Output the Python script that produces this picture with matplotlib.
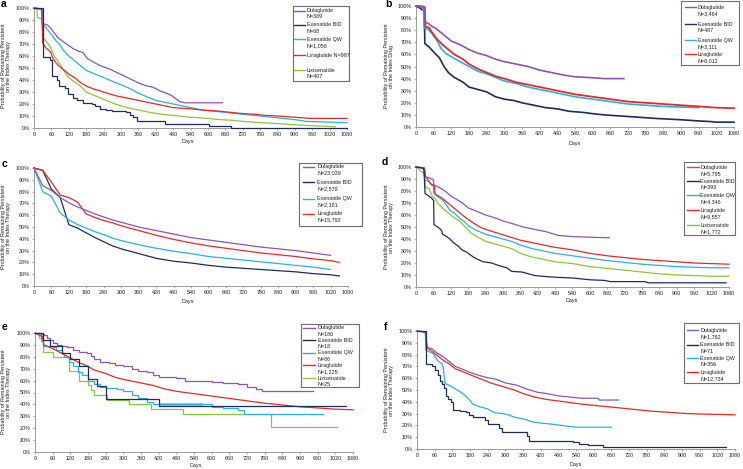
import matplotlib
matplotlib.use('Agg')
import matplotlib.pyplot as plt

W, H = 743, 469
plt.rcParams['font.family'] = ['Liberation Sans', 'DejaVu Sans']

C_DULA = '#8E54B0'
C_BID = '#1C2D5A'
C_QW = '#2AB0E4'
C_LIRA = '#E32A2A'
C_LIXI = '#8CC63F'

X_TICKS = list(range(0, 1081, 60))
Y_TICKS = list(range(0, 101, 10))
Y_TICK_LABELS = [f'{v}%' for v in Y_TICKS]

# ---------------- Panel a ----------------
A_DULA_X = [0, 20, 28, 30, 45, 55, 67, 84, 101, 118, 136, 153, 168, 184, 205, 228, 262, 297, 331, 366, 389, 411, 434, 457, 475, 486, 503, 521, 650]
A_DULA_Y = [100, 99.5, 99, 87, 86, 84, 80, 75, 72, 69, 66, 64, 63, 58, 55, 52, 49, 45, 41, 37, 35, 34, 31, 29, 27, 25, 22, 21, 21]
A_BID_X = [0, 30, 55, 63, 80, 87, 107, 118, 133, 150, 168, 199, 210, 228, 248, 268, 317, 331, 343, 354, 400, 452, 605, 680, 1080]
A_BID_Y = [100, 59.5, 57, 43, 40, 35, 33, 28, 25, 23, 21, 20, 18, 16, 15, 14, 13, 11, 9, 6, 5.5, 3, 1.5, 0, 0]
A_QW_X = [0, 25, 28, 40, 60, 75, 90, 100, 120, 140, 160, 180, 210, 240, 270, 300, 330, 360, 390, 420, 460, 500, 540, 580, 620, 660, 700, 740, 780, 820, 860, 900, 940, 1000, 1080]
A_QW_Y = [100, 99, 87, 84, 78, 73, 69, 65, 60, 56, 52, 48, 45, 42, 39, 36, 33, 29, 26, 23, 21, 19, 17, 15, 14, 13, 12, 11, 10, 9, 8, 7, 5.5, 5, 4.5]
A_LIRA_X = [0, 28, 30, 40, 50, 58, 65, 80, 100, 120, 140, 160, 180, 200, 240, 280, 320, 360, 400, 440, 480, 540, 580, 640, 680, 720, 760, 800, 840, 900, 950, 1080]
A_LIRA_Y = [100, 99, 71, 67, 65, 63, 58, 53, 49, 45, 42, 38, 35, 33, 30, 27, 25, 23, 21, 19, 17, 16, 15, 14, 13, 12, 11.5, 10.5, 10, 9, 8, 8]
A_LIXI_X = [0, 10, 12, 26, 31, 40, 55, 70, 90, 110, 130, 160, 180, 210, 240, 280, 320, 360, 400, 440, 500, 540, 600, 640, 680, 720, 780, 820, 880, 950, 1000, 1040]
A_LIXI_Y = [100, 99, 92, 91, 75, 73, 68, 60, 53, 45, 40, 35, 30, 27, 24, 20, 17, 15, 13, 11.5, 10, 9, 8, 7, 6.5, 5.5, 4.5, 4, 3, 2, 1.5, 1]
A_LABELS = [('Dulaglutide', 'N=389'), ('Exenatide BID', 'N=68'), ('Exenatide QW', 'N=1,058'),
            ('Liraglutide N=997', None), ('Lixisenatide', 'N=407')]

# ---------------- Panel b ----------------
B_DULA_X = [0, 25, 28, 30, 45, 55, 65, 80, 100, 120, 150, 180, 210, 240, 270, 300, 340, 380, 420, 460, 500, 540, 580, 640, 706]
B_DULA_Y = [100, 99.5, 99, 87, 85, 83, 82, 79, 75, 71, 68, 64, 61, 59, 56, 54, 52, 50, 47, 45, 43, 41.5, 41, 40, 40]
B_BID_X = [0, 15, 20, 28, 30, 45, 60, 80, 95, 110, 130, 160, 180, 210, 240, 270, 300, 330, 360, 400, 440, 480, 520, 570, 600, 640, 700, 760, 820, 860, 900, 960, 1000, 1020, 1080]
B_BID_Y = [100, 98, 97, 97, 69, 66, 62, 57, 50, 45, 41, 37, 33, 31, 29, 25, 23, 22, 20, 18, 16, 15, 13, 12, 11, 10, 9, 8, 7, 6.5, 6, 5, 4.5, 4, 4]
B_QW_X = [0, 25, 28, 40, 55, 70, 85, 100, 120, 150, 180, 210, 240, 270, 300, 340, 380, 420, 460, 500, 540, 600, 660, 720, 780, 840, 900, 960]
B_QW_Y = [100, 99, 82, 81, 77, 72, 65, 61, 58, 54, 50, 46, 44, 41, 38, 36, 33, 31, 29, 27, 25, 23, 21, 19, 18, 17, 16.5, 16]
B_LIRA_X = [0, 25, 30, 32, 45, 55, 70, 90, 110, 130, 160, 180, 210, 240, 270, 300, 340, 380, 420, 460, 500, 540, 600, 660, 720, 780, 840, 900, 960, 1020, 1080]
B_LIRA_Y = [100, 99.5, 99, 83, 82, 78, 73, 68, 64, 60, 56, 52, 48, 45, 42, 40, 37, 35, 33, 31, 29, 27, 25, 23, 21, 20, 19, 18, 17, 16, 15.5]
B_LABELS = [('Dulaglutide', 'N=3,464'), ('Exenatide BID', 'N=487'), ('Exenatide QW', 'N=3,111'),
            ('Liraglutide', 'N=8,012')]

# ---------------- Panel c ----------------
C_DULA_X = [0, 30, 60, 90, 120, 150, 180, 210, 240, 270, 300, 360, 420, 480, 540, 600, 660, 720, 780, 840, 900, 960, 1020]
C_DULA_Y = [100, 85, 81, 75, 70.5, 67, 64, 61, 58.5, 56, 54, 50, 47, 44, 41, 39, 37, 35, 33, 31.5, 30, 28, 26]
C_BID_X = [0, 30, 60, 90, 120, 150, 180, 210, 240, 270, 300, 360, 420, 480, 540, 600, 660, 720, 780, 840, 900, 960, 1020, 1050]
C_BID_Y = [100, 98, 82, 75, 52, 49, 45, 41, 37.5, 34, 31.5, 27.5, 23.5, 21, 19.5, 17.5, 16, 15, 14, 13, 12, 10.5, 9.5, 8.5]
C_QW_X = [0, 30, 60, 90, 120, 150, 180, 210, 240, 270, 300, 360, 420, 480, 540, 600, 660, 720, 780, 840, 900, 960, 1020]
C_QW_Y = [100, 80, 76, 62, 56, 52, 49, 46, 43.5, 40.5, 38.5, 35, 32, 29.5, 27.5, 25, 23.5, 22, 20.5, 19, 17.5, 16, 14]
C_LIRA_X = [0, 30, 60, 90, 120, 150, 180, 210, 240, 270, 300, 360, 420, 480, 540, 600, 660, 720, 780, 840, 900, 960, 1020, 1050]
C_LIRA_Y = [100, 98, 88, 77, 75, 71, 61, 58, 55.5, 53.5, 51, 47, 43, 39.5, 36.5, 34, 32, 30, 28, 26.5, 25, 23, 21.5, 20]
C_LABELS = [('Dulaglutide', 'N=23,039'), ('Exenatide BID', 'N=2,579'), ('Exenatide QW', 'N=2,181'),
            ('Liraglutide', 'N=15,792')]

# ---------------- Panel d ----------------
D_DULA_X = [0, 28, 30, 45, 55, 60, 62, 80, 100, 120, 140, 160, 180, 210, 240, 280, 300, 330, 370, 410, 450, 490, 540, 600, 667]
D_DULA_Y = [100, 99.5, 92, 91, 90, 89, 85, 83, 80, 76, 73, 70, 66, 63, 60, 57, 55, 53, 50, 48, 46, 43, 42, 41.5, 41]
D_BID_X = [0, 25, 28, 31, 43, 54, 61, 62, 75, 85, 90, 91, 106, 117, 129, 146, 158, 175, 186, 198, 213, 232, 261, 284, 313, 330, 365, 388, 411, 457, 491, 540, 600, 650, 670, 790, 800, 1070]
D_BID_Y = [100, 99, 97, 78, 76, 74, 72, 52, 50, 48, 46, 44, 42, 40, 37, 34, 31, 29, 27, 25, 23, 21, 20, 18, 16, 13, 12.5, 11, 9.5, 8.5, 8, 7.5, 6, 5.5, 4.5, 4.5, 3.5, 3.5]
D_QW_X = [0, 25, 30, 31, 45, 54, 60, 61, 71, 89, 100, 117, 135, 152, 169, 180, 210, 240, 270, 300, 330, 360, 400, 440, 480, 540, 600, 660, 720, 780, 840, 900, 960, 1020, 1080]
D_QW_Y = [100, 99, 90, 89, 88, 85, 84, 78, 76, 73, 70, 64, 61, 57, 54, 51, 47, 44, 42, 40, 38, 35, 32, 30, 28, 26, 24, 22, 20.5, 19, 18, 17, 16.5, 16, 16]
D_LIRA_X = [0, 30, 33, 40, 50, 60, 64, 65, 70, 90, 110, 130, 150, 170, 200, 220, 240, 280, 320, 360, 420, 480, 540, 600, 660, 720, 780, 840, 900, 960, 1020, 1080]
D_LIRA_Y = [100, 99, 92, 90, 86, 85, 85, 79, 77, 74, 70, 66, 62, 58, 53, 50, 48, 45, 42, 39, 36, 33, 31, 28, 26, 24.5, 23, 22, 21, 20, 19.5, 19]
D_LIXI_X = [0, 15, 25, 30, 32, 45, 55, 65, 75, 90, 110, 130, 150, 170, 190, 210, 240, 270, 300, 330, 360, 400, 440, 480, 540, 600, 660, 720, 780, 840, 900, 960, 1020, 1080]
D_LIXI_Y = [100, 97, 95, 94, 83, 82, 76, 74, 70, 66, 62, 58, 55, 50, 45, 42, 38, 36, 34, 32, 28, 25, 23, 21, 19.5, 17, 15.5, 14, 12.5, 11, 10, 9.5, 9, 9]
D_LABELS = [('Dulaglutide', 'N=5,795'), ('Exenatide BID', 'N=393'), ('Exenatide QW', 'N=4,346'),
            ('Liraglutide', 'N=9,557'), ('Lixisenatide', 'N=1,772')]

# ---------------- Panel e ----------------
E_DULA_X = [0, 20, 30, 40, 50, 60, 75, 90, 110, 130, 150, 175, 190, 200, 220, 250, 270, 300, 330, 350, 380, 400, 420, 480, 510, 600, 640, 690, 720, 750, 770, 943]
E_DULA_Y = [100, 99, 98, 96, 94, 92, 90, 89, 88, 86, 84, 83, 81, 78, 76, 75, 73, 72, 70, 68, 67, 65, 63, 62, 60, 59, 58, 57, 55, 53, 51, 51]
E_BID_X = [0, 27, 50, 92, 120, 150, 180, 210, 240, 420, 1056]
E_BID_Y = [100, 94.4, 88.9, 83.3, 77.8, 72.2, 61.1, 55.6, 44.4, 38.9, 38.9]
E_QW_X = [0, 20, 28, 60, 70, 90, 100, 115, 130, 145, 160, 180, 200, 220, 240, 280, 300, 330, 350, 380, 400, 420, 570, 600, 640, 690, 710, 979]
E_QW_Y = [100, 93, 89, 88, 86, 83, 80, 76, 72, 67, 65, 60, 57, 55, 54, 53, 51, 48, 45, 42, 40.5, 40, 40, 38, 37, 35, 32, 32]
E_QW_BAND_X = [420, 570]
E_QW_BAND_LO = [39, 39]
E_QW_BAND_HI = [41.5, 41.5]
E_LIRA_X = [0, 25, 30, 60, 90, 120, 150, 180, 200, 240, 270, 300, 360, 400, 440, 480, 540, 600, 660, 720, 780, 840, 900, 960, 1020, 1080]
E_LIRA_Y = [100, 97, 90, 87, 83, 79, 75, 72, 69, 66, 63, 61, 58, 56, 53, 51, 49, 47, 45, 43, 41, 39.5, 38, 37, 36, 35.5]
E_LIXI_X = [0, 12, 28, 60, 115, 150, 180, 190, 200, 245, 320, 395, 502, 800, 1024]
E_LIXI_Y = [100, 96, 84, 80, 68, 60, 56, 52, 48, 44, 40, 36, 32, 21, 21]
E_LABELS = [('Dulaglutide', 'N=180'), ('Exenatide BID', 'N=18'), ('Exenatide QW', 'N=86'),
            ('Liraglutide', 'N=1,225'), ('Lixisenatide', 'N=25')]

# ---------------- Panel f ----------------
F_DULA_X = [0, 20, 30, 33, 35, 50, 70, 90, 110, 130, 160, 190, 230, 270, 300, 340, 370, 410, 440, 480, 520, 560, 615, 620, 685]
F_DULA_Y = [100, 99.5, 98, 90, 86, 85, 81, 78, 74, 70, 67, 64, 61, 59, 56, 54, 51, 48, 47, 45, 44, 43, 43, 41.5, 41.5]
F_BID_X = [0, 32, 50, 60, 70, 78, 84, 90, 98, 105, 115, 122, 145, 165, 178, 190, 230, 240, 280, 288, 372, 380, 530, 550, 580, 630, 1048]
F_BID_Y = [100, 72, 70, 67, 63, 58, 55, 52, 45, 42, 40, 33, 32, 31, 29, 27, 25, 21, 18, 14, 11, 7, 6, 4, 3, 1.4, 1.4]
F_QW_X = [0, 28, 30, 45, 55, 70, 85, 90, 92, 95, 100, 110, 130, 150, 170, 190, 210, 240, 260, 290, 310, 330, 350, 370, 390, 420, 460, 490, 520, 540, 660]
F_QW_Y = [100, 99, 84, 82, 81, 75, 72, 68, 62, 56, 55, 54, 51, 48, 44, 38, 36, 34, 31, 30, 29, 27, 26, 25, 23, 22, 21, 20, 19, 18.5, 18.5]
F_LIRA_X = [0, 30, 33, 50, 70, 90, 110, 130, 160, 190, 220, 250, 290, 330, 360, 400, 440, 500, 560, 620, 680, 740, 800, 860, 920, 980, 1080]
F_LIRA_Y = [100, 99, 86, 83, 79, 75, 72, 68, 65, 62, 59, 56, 53, 50, 47, 44, 42, 40, 38, 36.5, 35, 33.5, 32, 31, 30, 29.5, 29]
F_LABELS = [('Dulaglutide', 'N=1,782'), ('Exenatide BID', 'N=71'), ('Exenatide QW', 'N=356'),
            ('Liraglutide', 'N=12,734')]

FS = 3.9
TXT = '#222222'
SPINE = '#8a8a8a'

fig = plt.figure(figsize=(W / 100, H / 100), dpi=100)
fig.patch.set_facecolor('white')


def fx(x):
    return x / W


def fy(y):
    return 1 - y / H


def make_axes(x0, x1, ytop, ybot):
    ax = fig.add_axes([fx(x0), fy(ybot), (x1 - x0) / W, (ybot - ytop) / H])
    ax.set_xlim(0, 1080)
    ax.set_ylim(0, 100)
    ax.set_xticks(X_TICKS)
    ax.set_xticklabels([str(v) for v in X_TICKS])
    ax.set_yticks(Y_TICKS)
    ax.set_yticklabels(Y_TICK_LABELS)
    for s in ('top', 'right'):
        ax.spines[s].set_visible(False)
    for s in ('left', 'bottom'):
        ax.spines[s].set_color(SPINE)
        ax.spines[s].set_linewidth(0.6)
    ax.tick_params(labelsize=FS, length=1.6, width=0.5, pad=1.6, color=SPINE, labelcolor=TXT)
    ax.set_facecolor('none')
    return ax


def line(ax, x, y, c, lw=0.9, step=False):
    ax.plot(x, y, color=c, lw=lw, clip_on=False, drawstyle='steps-post' if step else 'default',
            solid_joinstyle='miter', zorder=3)


def legend(x0, y0, x1, y1, hx0, hx1, tx, entries):
    lax = fig.add_axes([fx(x0), fy(y1), (x1 - x0) / W, (y1 - y0) / H])
    lax.set_xlim(x0, x1)
    lax.set_ylim(y1, y0)
    lax.set_xticks([])
    lax.set_yticks([])
    for s in lax.spines.values():
        s.set_color('#6f6f6f')
        s.set_linewidth(0.8)
    for (c, (l1, l2), ty) in entries:
        lax.plot([hx0, hx1 - 0.5], [ty, ty], color=c, lw=1.0)
        lax.text(tx + 0.8, ty, l1, fontsize=FS, color=TXT, va='center', ha='left')
        if l2:
            lax.text(tx + 0.8, ty + 6.3, l2, fontsize=FS, color=TXT, va='center', ha='left')


def labels(letter, lx, ly, ylab, yx, yy, dx, dy):
    fig.text(fx(lx), fy(ly), letter, fontsize=7.5, fontweight='bold', ha='center', va='center')
    fig.text(fx(yx), fy(yy), ylab, fontsize=FS, color=TXT, rotation=90, ha='center', va='center',
             multialignment='center', linespacing=1.15)
    fig.text(fx(dx), fy(dy), 'Days', fontsize=FS, color=TXT, ha='center', va='center')


YL1 = 'Probability of Remaining Persistent\non the Index Therapy'
YL2 = 'Probability of Remaining Persistent\non the Index Drug'

# Panel a
ax = make_axes(34, 347, 8, 128)
line(ax, A_LIXI_X, A_LIXI_Y, C_LIXI)
line(ax, A_QW_X, A_QW_Y, C_QW)
line(ax, A_LIRA_X, A_LIRA_Y, C_LIRA)
line(ax, A_DULA_X, A_DULA_Y, C_DULA)
line(ax, A_BID_X, A_BID_Y, C_BID, step=True)
labels('a', 4, 4, YL1, 6, 66, 188, 141)
legend(293, 6, 349, 81, 294, 305, 306,
       [(C_DULA, A_LABELS[0], 10.7), (C_BID, A_LABELS[1], 25), (C_QW, A_LABELS[2], 39.3),
        (C_LIRA, A_LABELS[3], 55), (C_LIXI, A_LABELS[4], 70)])

# Panel b
ax = make_axes(416, 734, 6, 127)
line(ax, B_BID_X, B_BID_Y, C_BID, lw=1.2)
line(ax, B_QW_X, B_QW_Y, C_QW, lw=1.2)
line(ax, B_LIRA_X, B_LIRA_Y, C_LIRA, lw=1.3)
line(ax, B_DULA_X, B_DULA_Y, C_DULA, lw=1.2)
labels('b', 388, 4, YL2, 389, 66, 575, 143)
legend(681, 0.5, 739, 65, 685, 696, 697,
       [(C_DULA, B_LABELS[0], 7.3), (C_BID, B_LABELS[1], 24), (C_QW, B_LABELS[2], 40),
        (C_LIRA, B_LABELS[3], 54.3)])

# Panel c
ax = make_axes(34, 348, 168, 286)
line(ax, C_BID_X, C_BID_Y, C_BID)
line(ax, C_QW_X, C_QW_Y, C_QW)
line(ax, C_LIRA_X, C_LIRA_Y, C_LIRA)
line(ax, C_DULA_X, C_DULA_Y, C_DULA)
labels('c', 5, 164, YL1, 6, 227, 188, 301)
legend(299, 163, 362, 226, 303, 315, 316.7,
       [(C_DULA, C_LABELS[0], 166.7), (C_BID, C_LABELS[1], 182), (C_QW, C_LABELS[2], 198.7),
        (C_LIRA, C_LABELS[3], 213.7)])

# Panel d
ax = make_axes(416, 729, 167, 287)
line(ax, D_LIXI_X, D_LIXI_Y, C_LIXI)
line(ax, D_QW_X, D_QW_Y, C_QW)
line(ax, D_LIRA_X, D_LIRA_Y, C_LIRA)
line(ax, D_DULA_X, D_DULA_Y, C_DULA)
line(ax, D_BID_X, D_BID_Y, C_BID)
labels('d', 385, 162, YL1, 389, 227, 572, 300)
legend(684, 162, 735, 235, 687, 699, 699.7,
       [(C_DULA, D_LABELS[0], 167), (C_BID, D_LABELS[1], 181), (C_QW, D_LABELS[2], 195.3),
        (C_LIRA, D_LABELS[3], 210), (C_LIXI, D_LABELS[4], 225)])

# Panel e
ax = make_axes(35, 353, 333, 452)
ax.fill_between(E_QW_BAND_X, E_QW_BAND_LO, E_QW_BAND_HI, color=C_QW, alpha=0.55, lw=0, zorder=2)
line(ax, E_LIXI_X, E_LIXI_Y, C_LIXI, step=True)
line(ax, E_QW_X, E_QW_Y, C_QW, step=True)
line(ax, E_LIRA_X, E_LIRA_Y, C_LIRA)
line(ax, E_DULA_X, E_DULA_Y, C_DULA, step=True)
line(ax, E_BID_X, E_BID_Y, C_BID, step=True)
labels('e', 5, 327, YL1, 6, 392, 196, 465)
legend(301, 324, 359, 387, 303, 315, 316.7,
       [(C_DULA, E_LABELS[0], 327.7), (C_BID, E_LABELS[1], 340.3), (C_QW, E_LABELS[2], 352.7),
        (C_LIRA, E_LABELS[3], 365.3), (C_LIXI, E_LABELS[4], 378)])

# Panel f
ax = make_axes(417, 735, 331, 449)
line(ax, F_QW_X, F_QW_Y, C_QW)
line(ax, F_LIRA_X, F_LIRA_Y, C_LIRA)
line(ax, F_DULA_X, F_DULA_Y, C_DULA)
line(ax, F_BID_X, F_BID_Y, C_BID, step=True)
labels('f', 386, 327, YL1, 389, 390, 576, 464)
legend(684, 323, 739, 383, 687, 698, 699.3,
       [(C_DULA, F_LABELS[0], 330.3), (C_BID, F_LABELS[1], 344.7), (C_QW, F_LABELS[2], 358),
        (C_LIRA, F_LABELS[3], 372)])

fig.savefig('out.png', dpi=100, facecolor='white')
